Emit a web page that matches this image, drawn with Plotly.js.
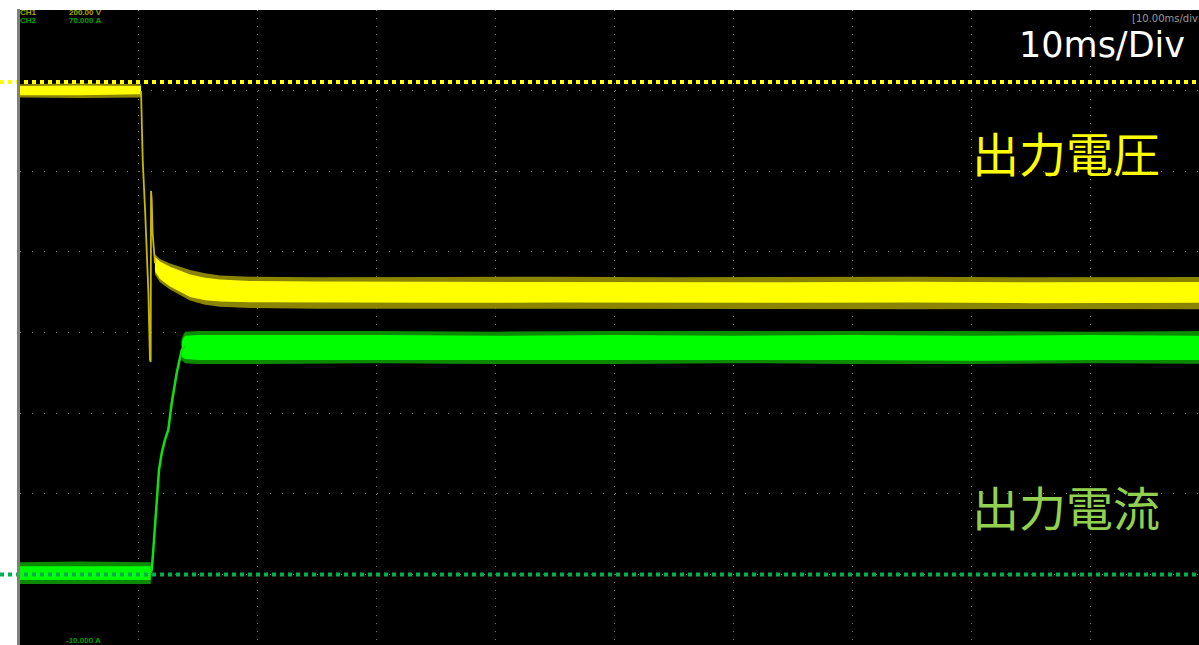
<!DOCTYPE html>
<html>
<head>
<meta charset="utf-8">
<script src="https://cdn.plot.ly/plotly-3.0.1.min.js"></script>
<style>
html,body{margin:0;padding:0;background:#ffffff;overflow:hidden;}
#chart{width:1209px;height:655px;}
</style>
</head>
<body>
<div id="chart"></div>
<script>
// ---------- Axis ranges (oscilloscope: 10 div x 8 div) ----------
const timeRange = [0, 100];        // ms, 10 ms/div
const voltRange = [0, 200];        // CH1, V
const currRange = [-10, 70];       // CH2, A

// ---------- CH1 : output voltage (V) ----------
const vPreT        = [0, 5, 10.18];
const vPreCoreHi   = [176.4, 176.6, 176.4];
const vPreCoreLo   = [173.6, 173.6, 173.9];
const vPreOuterHi  = [177.0, 177.3, 177.0];
const vPreOuterLo  = [172.9, 172.7, 172.9];

const vDropT = [10.18, 10.32, 10.52, 10.66, 10.80, 10.93, 10.99, 11.02, 11.08, 11.15, 11.25, 11.35];
const vDropV = [174.9, 153.5, 138.0, 126.5, 112.2, 91.5, 90.9, 143.9, 141.1, 131.0, 126.0, 121.5];

const vPostT       = [11.35, 11.77, 12.62, 13.46, 14.30, 15.56, 16.82, 19.34, 25, 35, 45, 55, 65, 75, 85, 100];
const vPostCoreHi  = [123.4, 122.0, 120.4, 119.2, 118.0, 117.0, 116.4, 116.0, 115.8, 115.7, 115.6, 115.7, 115.6, 115.7, 115.6, 115.7];
const vPostCoreLo  = [119.0, 116.6, 114.3, 112.7, 111.0, 110.0, 109.6, 109.4, 109.3, 109.2, 109.3, 109.2, 109.2, 109.3, 109.1, 109.2];
const vPostOuterHi = [124.3, 122.8, 121.4, 120.4, 119.4, 118.4, 117.7, 117.3, 117.1, 117.2, 117.3, 117.1, 117.2, 117.3, 117.1, 117.2];
const vPostOuterLo = [118.0, 115.6, 113.3, 111.5, 109.9, 108.6, 108.0, 107.6, 107.4, 107.4, 107.3, 107.4, 107.3, 107.2, 107.3, 107.2];

// ---------- CH2 : output current (A) ----------
const aPreT        = [0, 5, 11.0];
const aPreCoreHi   = [1.0, 1.0, 1.0];
const aPreCoreLo   = [-0.7, -0.7, -0.7];
const aPreOuterHi  = [1.5, 1.6, 1.5];
const aPreOuterLo  = [-1.2, -1.2, -1.2];

const aRiseT = [11.0, 11.08, 11.21, 11.50, 11.69, 11.92, 12.19, 12.47, 12.76, 13.18, 13.60, 13.88];
const aRiseA = [0.2, 0.54, 3.02, 8.36, 12.95, 15.05, 16.67, 17.91, 21.26, 24.98, 27.83, 28.3];

const aPostT       = [13.60, 13.88, 15, 20, 30, 40, 50, 60, 70, 80, 90, 100];
const aPostCoreHi  = [28.9, 29.6, 29.7, 29.7, 29.7, 29.6, 29.7, 29.6, 29.7, 29.6, 29.7, 29.6];
const aPostCoreLo  = [27.0, 26.7, 26.6, 26.6, 26.6, 26.6, 26.6, 26.6, 26.6, 26.5, 26.6, 26.6];
const aPostOuterHi = [29.3, 30.1, 30.2, 30.2, 30.2, 30.1, 30.2, 30.2, 30.2, 30.2, 30.1, 30.2];
const aPostOuterLo = [26.6, 26.2, 26.1, 26.1, 26.2, 26.1, 26.1, 26.2, 26.1, 26.1, 26.2, 26.1];

// ---------- Markers ----------
const vMarker = 177.7;   // CH1 reference marker (V)
const aMarker = 0;       // CH2 ground marker (A)

// ---------- Texts ----------
const ch1Name = "CH1", ch1Scale = "200.00 V";
const ch2Name = "CH2", ch2Scale = "70.000 A", ch2Bottom = "-10.000 A";
const timeBase = "[10.00ms/div";
const timeLabel = "10ms/Div";
const voltLabel = "出力電圧";
const currLabel = "出力電流";

// ---------- Styles ----------
const YEL = "#ffff00", YEL_DIM = "#8a8400", YEL_LINE = "#c8b800";
const GRN = "#00ff00", GRN_DIM = "#0c8a00", GRN_LINE = "#10e010";

function band(x, lo, hi, color, yaxis) {
  return [
    {x: x, y: lo, yaxis: yaxis, mode: "lines", line: {width: 0, color: color}, hoverinfo: "skip", showlegend: false},
    {x: x, y: hi, yaxis: yaxis, mode: "lines", line: {width: 0, color: color}, fill: "tonexty", fillcolor: color, hoverinfo: "skip", showlegend: false}
  ];
}

const traces = [].concat(
  band(aPreT, aPreOuterLo, aPreOuterHi, GRN_DIM, "y2"),
  band(aPreT, aPreCoreLo, aPreCoreHi, GRN, "y2"),
  band(aPostT, aPostOuterLo, aPostOuterHi, GRN_DIM, "y2"),
  band(aPostT, aPostCoreLo, aPostCoreHi, GRN, "y2"),
  [{x: aRiseT, y: aRiseA, yaxis: "y2", mode: "lines", line: {width: 2.5, color: GRN_LINE}, showlegend: false, hoverinfo: "skip"}],
  band(vPreT, vPreOuterLo, vPreOuterHi, YEL_DIM, "y"),
  band(vPreT, vPreCoreLo, vPreCoreHi, YEL, "y"),
  band(vPostT, vPostOuterLo, vPostOuterHi, YEL_DIM, "y"),
  band(vPostT, vPostCoreLo, vPostCoreHi, YEL, "y"),
  [{x: vDropT, y: vDropV, yaxis: "y", mode: "lines", line: {width: 1.8, color: YEL_LINE}, showlegend: false, hoverinfo: "skip"}]
);

// pixel geometry helpers
const W = 1209, H = 655, ML = 20, MT = 10;
const PW = W - ML, PH = H - MT;
const px2xp = px => (px - ML) / PW;
const py2yp = py => (H - py) / PH;
const v2yp = v => (v - voltRange[0]) / (voltRange[1] - voltRange[0]);
const a2yp = a => (a - currRange[0]) / (currRange[1] - currRange[0]);

const shapes = [
  {type: "line", xref: "paper", yref: "paper", x0: px2xp(0), x1: 1, y0: v2yp(vMarker), y1: v2yp(vMarker),
   line: {color: YEL, width: 4, dash: "4px,4px"}, layer: "above"},
  {type: "line", xref: "paper", yref: "paper", x0: px2xp(0), x1: 1, y0: a2yp(aMarker), y1: a2yp(aMarker),
   line: {color: "#00b050", width: 4, dash: "4px,4px"}, layer: "above"},
  {type: "line", xref: "paper", yref: "paper", x0: px2xp(18.5), x1: px2xp(18.5), y0: 0, y1: py2yp(9),
   line: {color: "#7f7f7f", width: 3}, layer: "above"}
];

const small = (txt, px, py, color, size) => ({
  text: "<b>" + txt + "</b>", xref: "paper", yref: "paper", x: px2xp(px), y: py2yp(py),
  xanchor: "left", yanchor: "middle", showarrow: false,
  font: {family: "Liberation Sans, Arial, sans-serif", size: size, color: color}
});

const annotations = [
  small(ch1Name, 18, 12, "#a8a800", 8),
  small(ch1Scale, 67, 12, "#a8a800", 8),
  small(ch2Name, 18, 20, "#00a000", 8),
  small(ch2Scale, 67, 20, "#00a000", 8),
  small(ch2Bottom, 64, 640, "#00a000", 8),
  {text: timeBase, xref: "paper", yref: "paper", x: px2xp(1130), y: py2yp(18.5),
   xanchor: "left", yanchor: "middle", showarrow: false,
   font: {family: "DejaVu Sans, sans-serif", size: 10, color: "#9a9a9a"}},
  {text: timeLabel, xref: "paper", yref: "paper", x: px2xp(1017), y: py2yp(45),
   xanchor: "left", yanchor: "middle", showarrow: false,
   font: {family: "DejaVu Sans, sans-serif", size: 35, color: "#ffffff"}},
  {text: voltLabel, xref: "paper", yref: "paper", x: px2xp(970), y: py2yp(151),
   xanchor: "left", yanchor: "middle", showarrow: false,
   font: {family: "Noto Sans CJK JP, sans-serif", size: 47, color: YEL}},
  {text: currLabel, xref: "paper", yref: "paper", x: px2xp(970), y: py2yp(505),
   xanchor: "left", yanchor: "middle", showarrow: false,
   font: {family: "Noto Sans CJK JP, sans-serif", size: 47, color: "#92d050"}}
];

const layout = {
  width: W, height: H,
  margin: {l: ML, r: 0, t: MT, b: 0, pad: 0},
  paper_bgcolor: "#ffffff",
  plot_bgcolor: "#000000",
  showlegend: false,
  hovermode: false,
  xaxis: {range: timeRange, dtick: 10, tick0: 0, showticklabels: false, ticks: "", zeroline: false,
          showgrid: true, gridcolor: "#707070", gridwidth: 1, griddash: "1px,7.06px", fixedrange: true},
  yaxis: {range: voltRange, dtick: 25, tick0: 0, showticklabels: false, ticks: "", zeroline: false,
          showgrid: true, gridcolor: "#707070", gridwidth: 1, griddash: "1px,10.89px", fixedrange: true},
  yaxis2: {range: currRange, overlaying: "y", side: "right", showticklabels: false, ticks: "",
           zeroline: false, showgrid: false, fixedrange: true},
  shapes: shapes,
  annotations: annotations
};

Plotly.newPlot("chart", traces, layout, {staticPlot: true, displayModeBar: false});
</script>
</body>
</html>
